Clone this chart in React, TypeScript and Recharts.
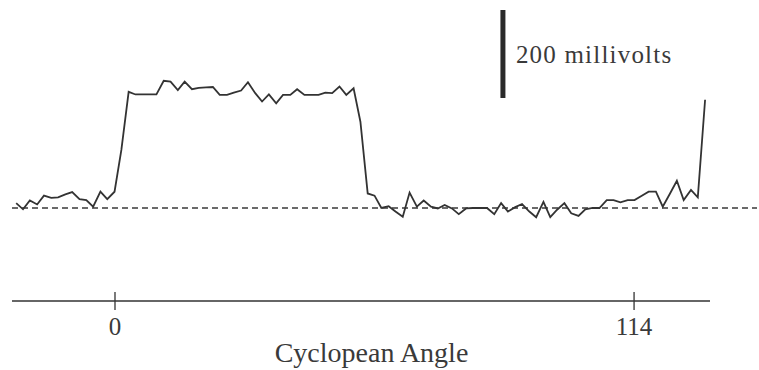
import React from 'react';
import { ComposedChart, Line, XAxis, YAxis, ReferenceLine, Label } from 'recharts';

// sample positions along the cyclopean angle axis
const angle = [
  -21.7, -20.2, -18.7, -17.1, -15.6, -14.0, -12.5, -10.9, -9.4, -7.8,
  -6.3, -4.8, -3.2, -1.7, -0.1, 1.4, 3.0, 4.5, 6.1, 7.6,
  9.1, 10.7, 12.2, 13.8, 15.3, 16.9, 18.4, 20.0, 21.5, 23.0,
  24.6, 26.1, 27.7, 29.2, 30.8, 32.3, 33.8, 35.4, 36.9, 38.5,
  40.0, 41.6, 43.1, 44.7, 46.2, 47.7, 49.3, 50.8, 52.4, 53.9,
  55.5, 57.0, 58.5, 60.1, 61.6, 63.2, 64.7, 66.3, 67.8, 69.4,
  70.9, 72.4, 74.0, 75.5, 77.1, 78.6, 80.2, 81.7, 83.3, 84.8,
  86.3, 87.9, 89.4, 91.0, 92.5, 94.1, 95.6, 97.1, 98.7, 100.2,
  101.8, 103.3, 104.9, 106.4, 108.0, 109.5, 111.0, 112.6, 114.1, 115.7,
  117.2, 118.8, 120.3, 121.9, 123.4, 124.9, 126.5, 128.0, 129.6,
];

// response in millivolts (0 = dashed baseline)
const millivolts = [
  11, -3, 17, 8, 28, 23, 24, 31, 36, 20,
  18, 3, 37, 20, 37, 132, 264, 258, 258, 258,
  258, 289, 287, 268, 287, 270, 273, 274, 275, 257,
  257, 262, 267, 286, 261, 242, 258, 238, 257, 257,
  270, 257, 257, 257, 262, 261, 276, 257, 272, 196,
  33, 28, 0, 4, -8, -20, 35, 3, 17, 3,
  -1, 7, -1, -14, -1, 0, 0, 0, -14, 11,
  -8, 2, 9, -8, -21, 14, -21, -4, 11, -12,
  -18, -3, 0, 0, 18, 18, 13, 18, 18, 28,
  37, 37, 3, 33, 62, 18, 41, 24, 246,
];

const xTicks = [0, 114];
const scaleBar = [250, 450]; // 200 mV
const scaleLabel = '200 millivolts';
const axisTitle = 'Cyclopean Angle';

const X_MIN = -22.62;
const X_MAX = 141.0;
const AXIS_END = 130.68;
const Y_MIN = -211.4;
const Y_MAX = 472.7;
const SCALE_X = 85.2;

const data = angle.map((a, i) => ({ angle: a, mv: millivolts[i] }));

const serif = '"Liberation Serif", "Times New Roman", serif';
const ink = '#333333';

const AngleTick = ({ x, y, payload }: any) => (
  <g>
    <line x1={x} y1={y - 9} x2={x} y2={y + 9} stroke={ink} strokeWidth={1.3} />
    <text x={x} y={y + 34} textAnchor="middle" fontFamily={serif} fontSize={25} fill="#3a3a3a">
      {payload.value}
    </text>
  </g>
);

const App: React.FC = () => {
  return (
    <div style={{ position: 'absolute', left: 0, top: 0, background: '#fff' }}>
      <ComposedChart width={759} height={370} data={data} margin={{ top: 0, right: 2, bottom: 0, left: 12 }}>
        <XAxis
          type="number"
          dataKey="angle"
          domain={[X_MIN, X_MAX]}
          allowDataOverflow
          ticks={xTicks}
          axisLine={false}
          tickLine={false}
          tickSize={0}
          tickMargin={0}
          height={69}
          tick={<AngleTick />}
        >
          <Label
            value={axisTitle}
            position="insideBottom"
            offset={8}
            dx={-13}
            style={{ fontFamily: serif, fontSize: 28, fill: '#3a3a3a' }}
          />
        </XAxis>
        <YAxis type="number" hide domain={[Y_MIN, Y_MAX]} allowDataOverflow />
        <ReferenceLine y={0} stroke="#3a3a3a" strokeWidth={1.5} strokeDasharray="6 4" />
        <ReferenceLine
          segment={[{ x: X_MIN, y: Y_MIN }, { x: AXIS_END, y: Y_MIN }]}
          stroke={ink}
          strokeWidth={1.3}
          ifOverflow="visible"
        />
        <ReferenceLine
          segment={[{ x: SCALE_X, y: scaleBar[0] }, { x: SCALE_X, y: scaleBar[1] }]}
          stroke="#2a2a2a"
          strokeWidth={5}
          ifOverflow="visible"
          label={(props: any) => {
            const vb = props.viewBox || {};
            return (
              <text
                x={vb.x + 13}
                y={vb.y + 53}
                fontFamily={serif}
                fontSize={25}
                letterSpacing={1.2}
                fill="#3a3a3a"
              >
                {scaleLabel}
              </text>
            );
          }}
        />
        <Line
          type="linear"
          dataKey="mv"
          stroke={ink}
          strokeWidth={1.8}
          dot={false}
          isAnimationActive={false}
        />
      </ComposedChart>
    </div>
  );
};

export default App;
